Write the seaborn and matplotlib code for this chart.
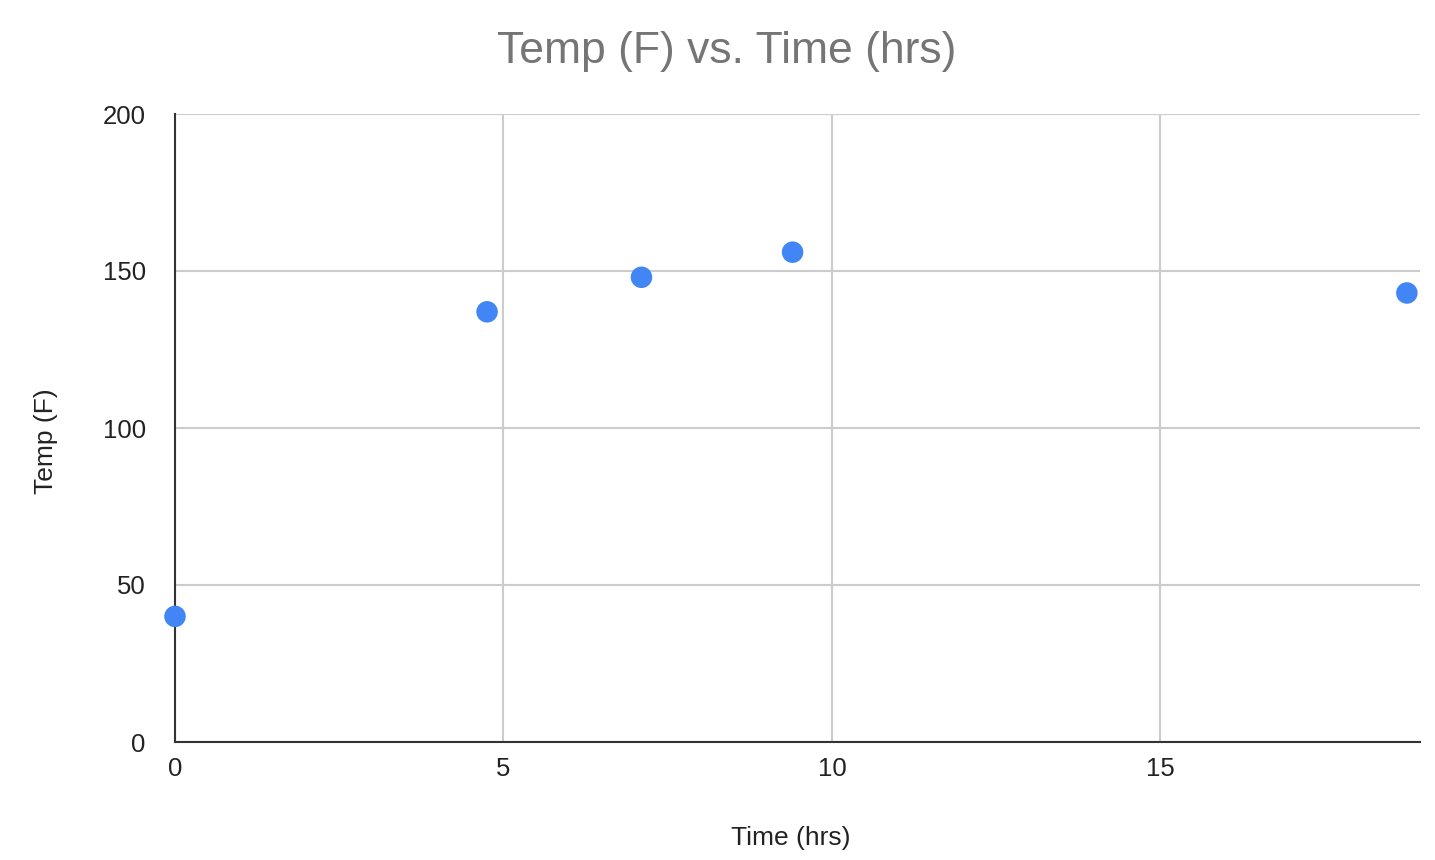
import matplotlib
matplotlib.use("Agg")
import matplotlib.pyplot as plt
import seaborn as sns
import pandas as pd

time_hrs = [0.0, 4.75, 7.1, 9.4, 18.75]
temp_f = [40, 137, 148, 156, 143]
x_ticks = [0, 5, 10, 15]
y_ticks = [0, 50, 100, 150, 200]

sns.set_theme(style="white")
plt.rcParams['font.family'] = ['Liberation Sans', 'DejaVu Sans']

df = pd.DataFrame({"Time (hrs)": time_hrs, "Temp (F)": temp_f})

fig = plt.figure(figsize=(14.35, 8.6), dpi=100)
ax = fig.add_axes([175/1435, (860-742)/860, (1420-175)/1435, (742-114)/860])

sns.scatterplot(data=df, x="Time (hrs)", y="Temp (F)", ax=ax, s=240,
                color="#4285F4", edgecolor="none", clip_on=False, zorder=5)

ax.set_xlim(0, 18.95)
ax.set_ylim(0, 200)
ax.set_xticks(x_ticks)
ax.set_yticks(y_ticks)
ax.grid(True, color="#cccccc", linewidth=1.5)
ax.set_axisbelow(True)
for s in ["top", "right"]:
    ax.spines[s].set_visible(False)
ax.spines["left"].set_color("#333333")
ax.spines["left"].set_linewidth(1.5)
ax.spines["bottom"].set_color("#333333")
ax.spines["bottom"].set_linewidth(1.5)
ax.tick_params(axis="both", length=0, labelsize=18.5, colors="#222222")
ax.tick_params(axis="x", pad=11)
ax.tick_params(axis="y", pad=21)

ax.set_xlabel("Time (hrs)", fontsize=19, color="#222222")
ax.set_ylabel("Temp (F)", fontsize=19, color="#222222")
ax.xaxis.set_label_coords((791-175)/1245, (742-826)/628)
ax.yaxis.set_label_coords((58-175)/1245, (742-441)/628)
fig.text(727/1435, 1-52/860, "Temp (F) vs. Time (hrs)", ha="center", va="center",
         fontsize=32, color="#757575")

fig.savefig("out.png", dpi=100, facecolor="white")
